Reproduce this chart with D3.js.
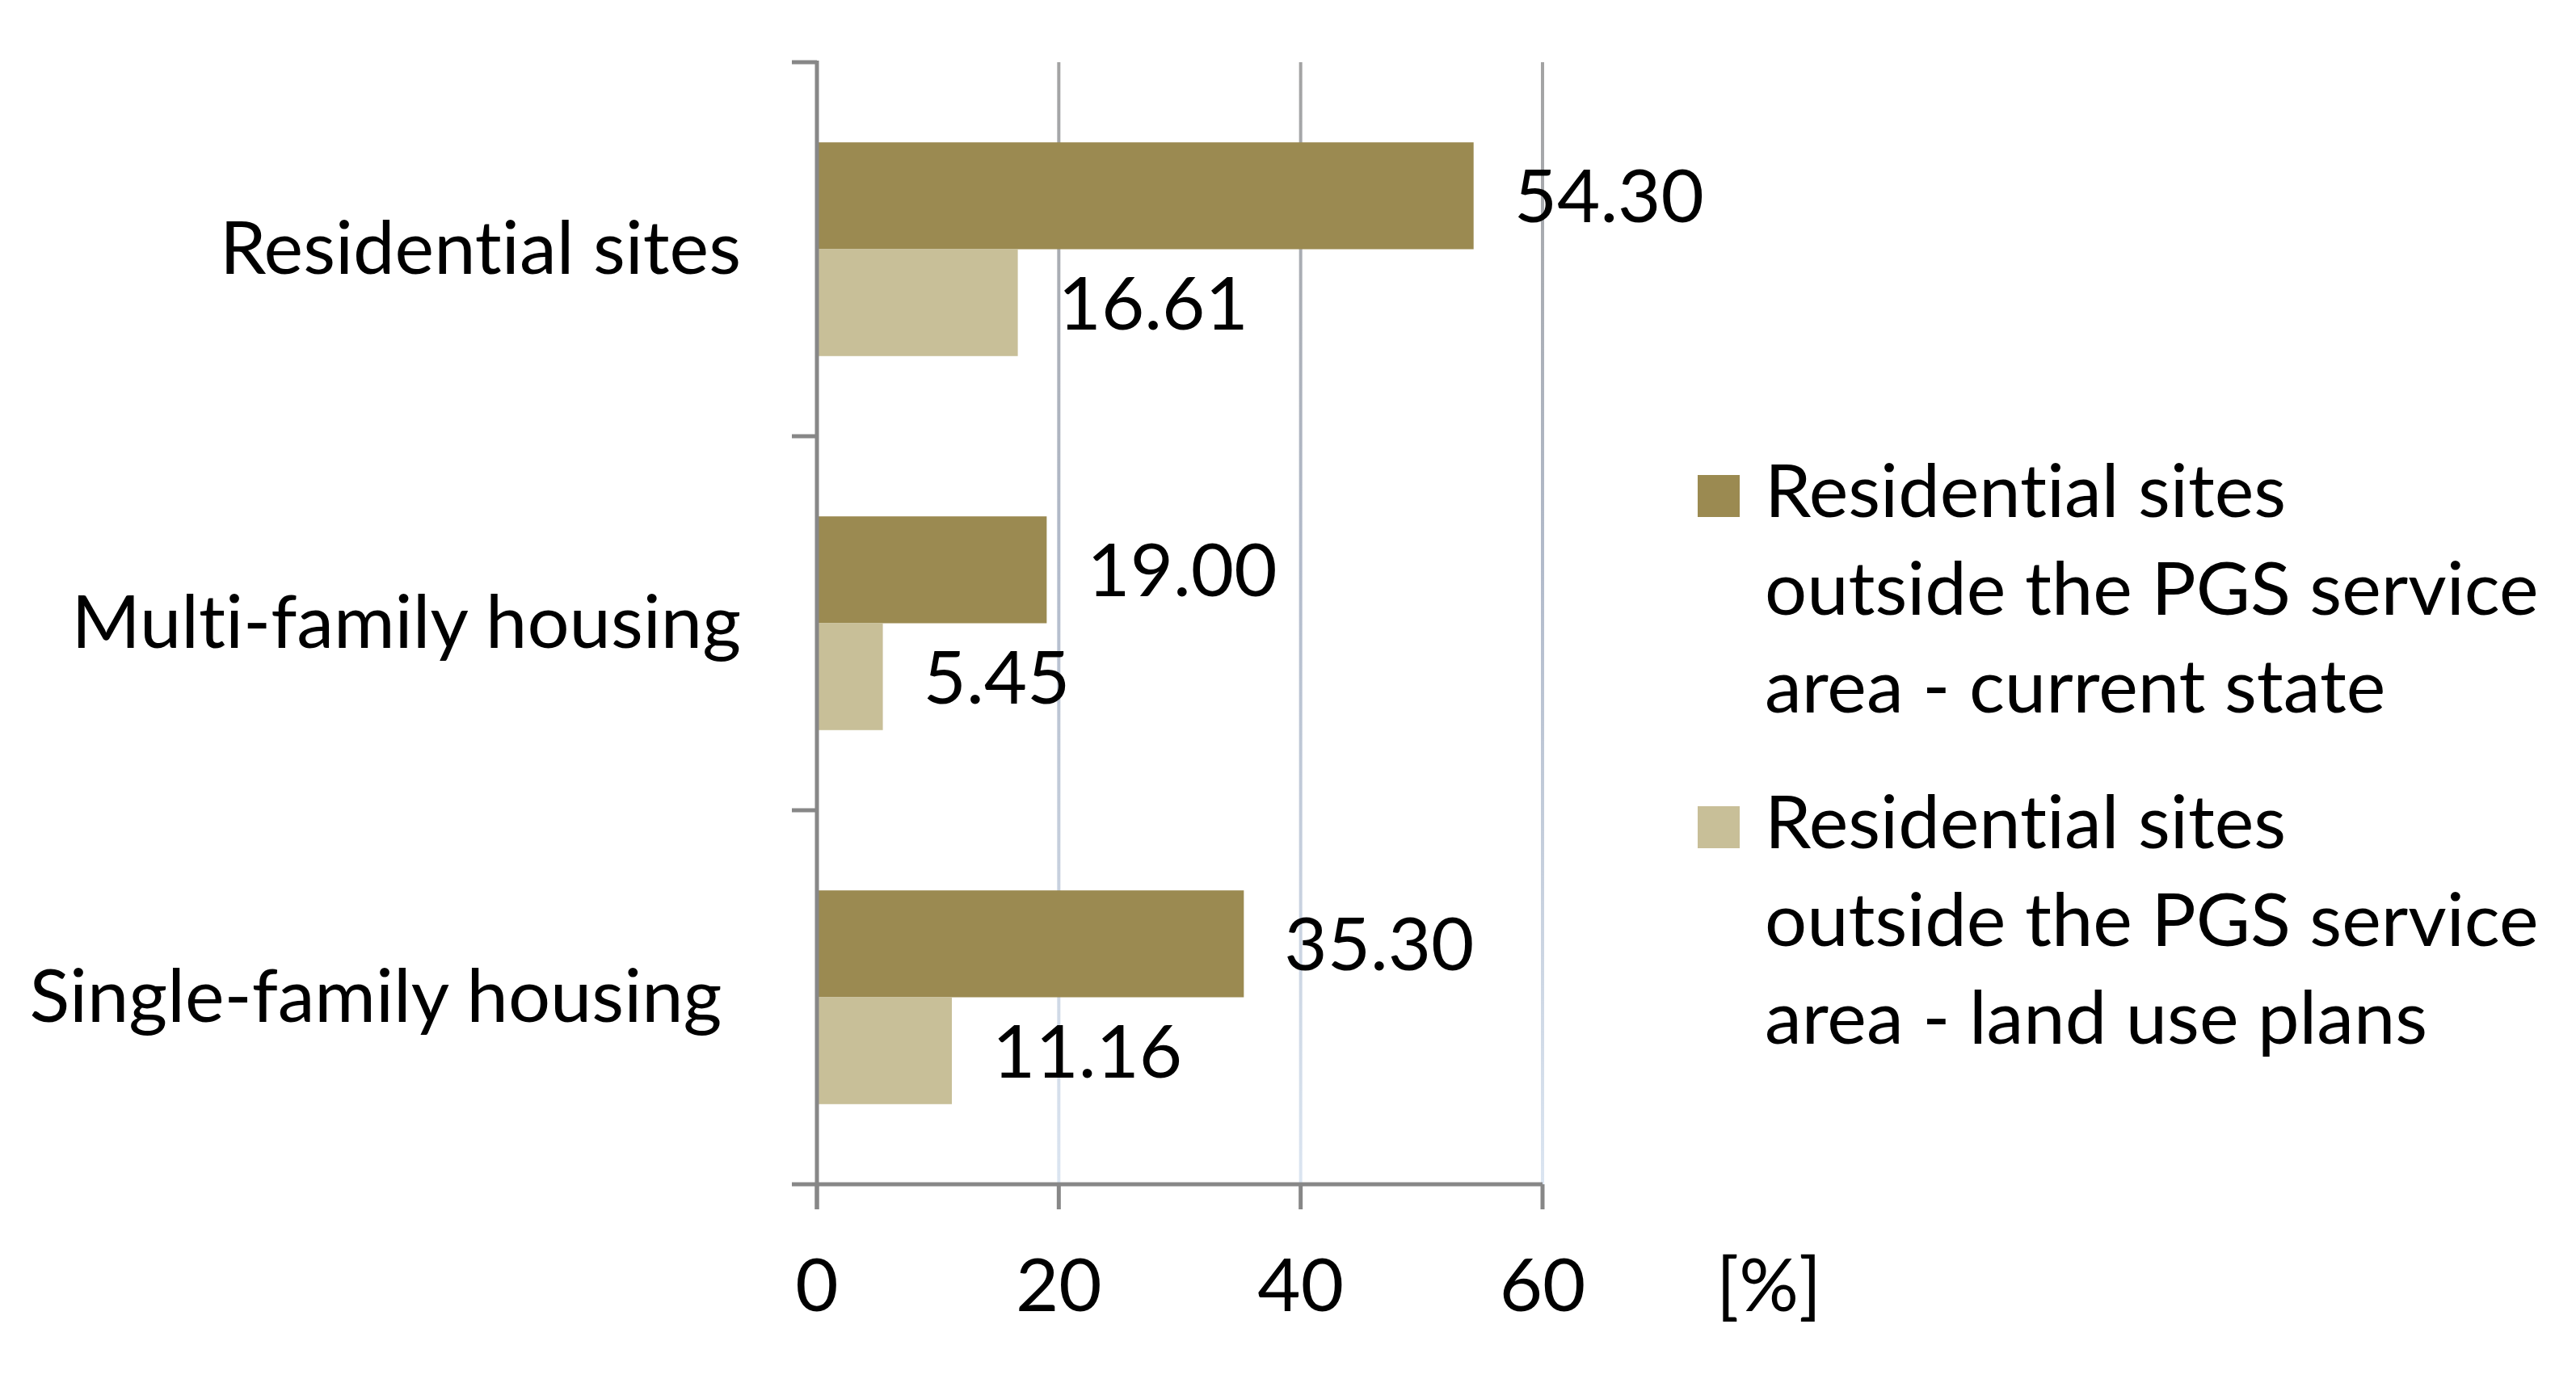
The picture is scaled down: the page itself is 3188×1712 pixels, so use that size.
<!DOCTYPE html>
<html>
<head>
<meta charset="utf-8">
<script src="https://cdn.jsdelivr.net/npm/d3@7/dist/d3.min.js"></script>
<style>
  html, body { margin: 0; padding: 0; background: #ffffff; }
  svg { display: block; }
  text { font-family: Lato, "Open Sans", sans-serif; fill: #000; white-space: pre;
         font-variant-ligatures: none; font-feature-settings: "liga" 0, "clig" 0; }
</style>
</head>
<body>
<svg id="chart" width="3188" height="1712"></svg>
<script>
// ---- data ----
const categories = ["Residential sites", "Multi-family housing", "Single-family housing "];
const seriesNames = [
  "Residential sites outside the PGS service area - current state",
  "Residential sites outside the PGS service area - land use plans"
];
const legendLines = [
  ["Residential sites", "outside the PGS service", "area - current state"],
  ["Residential sites", "outside the PGS service", "area - land use plans"]
];
const currentState = [54.30, 19.00, 35.30];
const landUsePlans = [16.61, 5.45, 11.16];
const xTicks = [0, 20, 40, 60];
const unitLabel = "[%]";

const seriesColors = ["#9b8a51", "#c8bf98"];
const seriesValues = [currentState, landUsePlans];

// ---- layout ----
const svg = d3.select("#chart");
const FS = 92;
const plot = { left: 1011, right: 1909, top: 77, bottom: 1466 };

const x = d3.scaleLinear().domain([0, 60]).range([plot.left, plot.right]);
const y = d3.scaleBand().domain(categories).range([plot.top, plot.bottom]).padding(0);
const ySub = d3.scaleBand().domain(d3.range(seriesNames.length))
  .range([0, y.bandwidth()]).paddingInner(0).paddingOuter(0.75);

// gridline gradient
const defs = svg.append("defs");
const grad = defs.append("linearGradient")
  .attr("id", "gridGrad").attr("gradientUnits", "userSpaceOnUse")
  .attr("x1", 0).attr("y1", plot.top).attr("x2", 0).attr("y2", plot.bottom);
grad.append("stop").attr("offset", "0%").attr("stop-color", "#a3a3a3");
grad.append("stop").attr("offset", "45%").attr("stop-color", "#b2bbcb");
grad.append("stop").attr("offset", "100%").attr("stop-color", "#dbe5f1");

// gridlines
svg.append("g").selectAll("line")
  .data(xTicks.filter(d => d > 0))
  .join("line")
  .attr("x1", d => x(d)).attr("x2", d => x(d))
  .attr("y1", plot.top).attr("y2", plot.bottom)
  .attr("stroke", "url(#gridGrad)").attr("stroke-width", 4);

// bars
const rows = [];
categories.forEach((c, i) => {
  seriesValues.forEach((vals, s) => rows.push({ cat: c, s, v: vals[i] }));
});

svg.append("g").selectAll("rect")
  .data(rows)
  .join("rect")
  .attr("x", x(0))
  .attr("y", d => y(d.cat) + ySub(d.s))
  .attr("width", d => x(d.v) - x(0))
  .attr("height", ySub.bandwidth())
  .attr("fill", d => seriesColors[d.s]);

// data labels
svg.append("g").selectAll("text")
  .data(rows)
  .join("text")
  .attr("x", d => x(d.v) + 50)
  .attr("y", d => y(d.cat) + ySub(d.s) + ySub.bandwidth() / 2 + 33)
  .attr("font-size", FS)
  .text(d => d.v.toFixed(2));

// axes lines
const axisColor = "#878787";
const axG = svg.append("g").attr("stroke", axisColor).attr("stroke-width", 5);
// y axis
axG.append("line").attr("x1", x(0)).attr("x2", x(0)).attr("y1", plot.top - 2).attr("y2", plot.bottom + 31);
// y ticks at category boundaries
const boundaries = categories.map(c => y(c)).concat([y.range()[1]]);
axG.selectAll("line.yt").data(boundaries).join("line").attr("class", "yt")
  .attr("x1", x(0) - 31).attr("x2", x(0)).attr("y1", d => d).attr("y2", d => d);
// x axis
axG.append("line").attr("x1", x(0)).attr("x2", x(60)).attr("y1", plot.bottom).attr("y2", plot.bottom);
axG.selectAll("line.xt").data(xTicks).join("line").attr("class", "xt")
  .attr("x1", d => x(d)).attr("x2", d => x(d)).attr("y1", plot.bottom).attr("y2", plot.bottom + 31);

// x tick labels
svg.append("g").selectAll("text")
  .data(xTicks)
  .join("text")
  .attr("x", d => x(d)).attr("y", 1623)
  .attr("text-anchor", "middle").attr("font-size", FS)
  .text(d => d);

svg.append("text").attr("x", x(60) + 215).attr("y", 1623)
  .attr("font-size", FS).text(unitLabel);

// category labels
svg.append("g").selectAll("text")
  .data(categories)
  .join("text")
  .attr("x", x(0) - 94)
  .attr("y", d => y(d) + y.bandwidth() / 2 + 30)
  .attr("text-anchor", "end").attr("font-size", FS)
  .text(d => d);

// legend
const legend = svg.append("g");
const lineH = 121, itemGap = 410, legX = 2101, legY0 = 640;
legendLines.forEach((lines, s) => {
  const g = legend.append("g").attr("transform", `translate(${legX},${legY0 + s * itemGap})`);
  g.append("rect").attr("x", 0).attr("y", -52).attr("width", 52).attr("height", 52)
    .attr("fill", seriesColors[s]);
  g.append("text").attr("font-size", FS)
    .selectAll("tspan").data(lines).join("tspan")
    .attr("x", 83).attr("y", (d, i) => i * lineH)
    .text(d => d);
});
</script>
</body>
</html>
